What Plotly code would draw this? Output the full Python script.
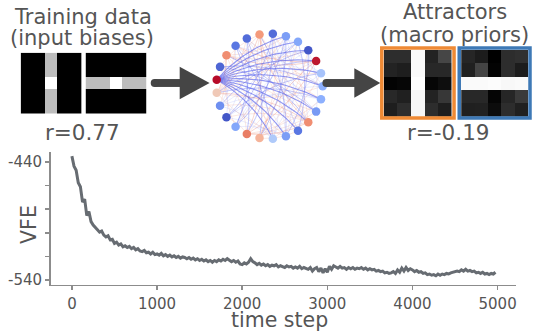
import numpy as np
import plotly.graph_objects as go

W, H = 533, 335
FONT = "DejaVu Sans"
TXT = "#555555"

# ---------------- data ----------------
step = 25
vfe = [
    -435.0, -443.5, -447.0, -457.5, -461.0, -474.0, -471.5, -485.5, -482.0, -490.5,
    -493.5, -496.0, -497.5, -499.5, -498.5, -502.0, -503.5, -502.5, -506.0, -505.5,
    -509.0, -508.0, -510.5, -509.5, -512.0, -511.0, -512.5, -511.5, -513.5, -512.5,
    -514.5, -513.5, -515.5, -516.0, -515.0, -517.0, -516.5, -518.0, -516.5, -518.5,
    -518.0, -519.0, -517.5, -519.5, -518.5, -520.0, -519.0, -520.5, -519.5, -521.0,
    -520.0, -521.5, -520.5, -521.0, -522.0, -521.0, -522.5, -521.5, -523.0, -522.0,
    -523.5, -522.5, -524.0, -523.0, -524.5, -523.5, -525.0, -523.5, -524.5, -523.0,
    -524.0, -522.5, -523.5, -522.0, -523.0, -524.5, -523.5, -525.0, -524.0, -526.5,
    -527.0, -525.5, -526.5, -525.0, -522.0, -524.5, -525.5, -527.0, -526.0, -527.5,
    -526.5, -528.0, -527.0, -528.5, -527.5, -528.0, -527.0, -529.0, -528.0, -528.5,
    -529.5, -528.0, -529.0, -528.5, -530.0, -529.0, -530.0, -528.5, -530.5, -529.5,
    -530.0, -531.0, -529.5, -532.5, -530.5, -529.5, -533.0, -530.0, -534.0, -530.5,
    -533.5, -528.5, -531.0, -528.0, -529.0, -530.0, -528.5, -530.0, -529.5, -531.0,
    -529.5, -530.5, -529.5, -531.0, -530.0, -530.5, -529.5, -531.0, -530.0, -531.5,
    -530.5, -531.5, -531.0, -532.5, -532.0, -533.0, -532.5, -534.0, -533.5, -534.5,
    -534.0, -533.0, -534.5, -531.5, -533.5, -530.0, -532.5, -529.5, -532.0, -530.5,
    -531.5, -533.0, -532.0, -533.5, -533.0, -534.5, -534.0, -535.5, -535.0, -536.0,
    -535.5, -536.5, -535.0, -536.0, -535.0, -535.5, -534.5, -535.0, -534.0, -533.5,
    -533.5, -532.5, -533.0, -531.5, -532.5, -531.0, -532.5, -532.0, -533.0, -532.5,
    -534.0, -533.5, -534.5, -533.5, -535.0, -534.5, -535.5, -534.5, -535.0, -533.5,
]
time_step = [i * step for i in range(len(vfe))]

x_ticks = [0, 1000, 2000, 3000, 4000, 5000]
y_ticks = [-540, -520, -500, -480, -460, -440]
y_ticktext = ["-540", "", "", "", "", "-440"]

train_vertical = [
    [0, 0, 0.74, 0, 0],
    [0, 0, 0.74, 0, 0],
    [0, 0, 1.0, 0, 0],
    [0, 0, 0.74, 0, 0],
    [0, 0, 0.74, 0, 0],
]
train_horizontal = [
    [0, 0, 0, 0, 0],
    [0, 0, 0, 0, 0],
    [0.74, 0.74, 1.0, 0.74, 0.74],
    [0, 0, 0, 0, 0],
    [0, 0, 0, 0, 0],
]
attr_vertical = [
    [45, 45, 250, 35, 70],
    [35, 30, 250, 40, 40],
    [3, 6, 255, 6, 14],
    [40, 32, 246, 35, 55],
    [30, 45, 246, 45, 30],
]
attr_horizontal = [
    [38, 28, 0, 45, 48],
    [32, 68, 3, 45, 28],
    [250, 250, 252, 248, 250],
    [40, 40, 5, 38, 58],
    [32, 33, 12, 45, 32],
]

# network: 25 nodes (counter-clockwise from east), values in [-1, 1]
node_values = [-0.5, -0.35, 0.95, -0.95, -0.55, -0.6, -0.85, 0.5, -0.85, -0.8,
               0.55, -0.88, 0.98, 0.2, -0.68, -0.95, -0.55, 0.62, 0.35, -0.3,
               -0.6, -0.8, 0.55, -0.62, -0.5]
edges = [
    (12, 0, -0.9), (12, 1, -0.85), (12, 2, -0.9), (12, 24, -0.85), (12, 23, -0.8),
    (12, 22, -0.75), (12, 3, -0.8), (12, 21, -0.7), (12, 4, -0.7), (12, 20, -0.65),
    (12, 5, -0.6), (12, 19, -0.6), (11, 0, -0.45), (11, 23, -0.4), (13, 2, -0.4),
    (13, 24, -0.45), (6, 17, -0.45), (8, 16, -0.45), (5, 18, -0.45), (7, 20, -0.4),
    (9, 19, -0.4), (4, 21, -0.4), (10, 22, -0.4), (3, 20, -0.35), (6, 15, -0.4),
    (8, 18, -0.4), (5, 16, -0.35), (9, 17, -0.35), (14, 3, -0.35), (15, 1, -0.35),
    (16, 4, -0.35),
    (2, 9, 0.4), (2, 10, 0.45), (2, 17, 0.4), (7, 17, 0.45), (7, 13, 0.4),
    (10, 13, 0.4), (22, 17, 0.4), (22, 7, 0.35), (18, 2, 0.35), (13, 22, 0.35),
    (0, 7, 0.3), (1, 10, 0.3), (3, 18, 0.3), (4, 13, 0.3), (5, 10, 0.3),
    (6, 22, 0.3), (8, 13, 0.3), (9, 22, 0.3), (11, 17, 0.3), (14, 7, 0.3),
    (15, 22, 0.3), (16, 10, 0.3), (19, 7, 0.3), (20, 13, 0.3), (21, 18, 0.3),
    (23, 10, 0.3), (24, 17, 0.3), (1, 18, 0.25), (0, 13, 0.25), (3, 10, 0.25),
    (4, 17, 0.25), (5, 13, 0.25), (6, 18, 0.25), (8, 22, 0.25), (9, 13, 0.25),
    (11, 7, 0.25), (14, 22, 0.25), (15, 17, 0.25), (16, 2, 0.25), (19, 22, 0.25),
    (20, 10, 0.25), (21, 7, 0.25), (23, 17, 0.25), (24, 7, 0.25),
    (0, 6, -0.3), (1, 8, -0.3), (3, 9, -0.3), (4, 11, -0.3), (5, 14, -0.3),
    (6, 16, -0.3), (9, 21, -0.3), (11, 20, -0.3), (14, 24, -0.3), (15, 0, -0.3),
    (16, 3, -0.3), (19, 1, -0.3), (20, 4, -0.3), (21, 5, -0.3), (23, 6, -0.3),
    (24, 8, -0.3), (0, 3, -0.25), (1, 5, -0.25), (4, 6, -0.25), (15, 19, -0.25),
    (16, 20, -0.25), (21, 24, -0.25), (3, 23, -0.25), (5, 20, -0.25), (6, 19, -0.25),
    (8, 15, -0.25), (9, 14, -0.25), (11, 15, -0.25), (14, 19, -0.25),
]

coolwarm = [
    [0.0, "rgb(59,76,192)"], [0.125, "rgb(98,130,234)"], [0.25, "rgb(141,176,254)"],
    [0.375, "rgb(184,208,249)"], [0.5, "rgb(221,221,221)"], [0.625, "rgb(245,196,173)"],
    [0.75, "rgb(244,154,123)"], [0.875, "rgb(222,96,77)"], [1.0, "rgb(180,4,38)"],
]
grey_scale = [[0, "black"], [1, "white"]]


def px(x):
    return x / W


def py(y):
    return 1 - y / H


fig = go.Figure()

# ---------------- main VFE line ----------------
fig.add_trace(go.Scatter(x=time_step, y=vfe, mode="lines",
                         line=dict(color="#676c72", width=3.0),
                         xaxis="x", yaxis="y", showlegend=False))

# ---------------- heatmaps ----------------
def add_heat(z, ax, zmax):
    fig.add_trace(go.Heatmap(z=z, colorscale=grey_scale, zmin=0, zmax=zmax,
                             showscale=False, xaxis="x" + ax, yaxis="y" + ax,
                             xgap=0, ygap=0))


add_heat(train_vertical, "2", 1)
add_heat(train_horizontal, "3", 1)
add_heat(attr_vertical, "5", 255)
add_heat(attr_horizontal, "6", 255)

# ---------------- network ----------------
R = 53.3
n = len(node_values)
ang = np.arange(n) * 2 * np.pi / n
nx = R * np.cos(ang)
ny = R * np.sin(ang)

groups = {}
for i, j, w in edges:
    p0 = np.array([nx[i], ny[i]])
    p2 = np.array([nx[j], ny[j]])
    d = p2 - p0
    ctrl = (p0 + p2) / 2 + 0.15 * np.array([-d[1], d[0]])
    t = np.linspace(0, 1, 24)[:, None]
    pts = (1 - t) ** 2 * p0 + 2 * (1 - t) * t * ctrl + t ** 2 * p2
    key = ("b" if w < 0 else "r") + ("s" if abs(w) >= 0.5 else ("m" if abs(w) >= 0.35 else "w"))
    gx, gy = groups.setdefault(key, ([], []))
    gx.extend(list(pts[:, 0]) + [None])
    gy.extend(list(pts[:, 1]) + [None])

styles = {
    "rw": ("rgba(240,160,140,0.3)", 0.8),
    "rm": ("rgba(236,140,120,0.4)", 0.9),
    "rs": ("rgba(230,110,90,0.5)", 1.0),
    "bw": ("rgba(150,160,245,0.25)", 0.8),
    "bm": ("rgba(110,120,240,0.45)", 0.9),
    "bs": ("rgba(90,100,235,0.65)", 1.1),
}
for key in ["rw", "bw", "rm", "bm", "rs", "bs"]:
    if key in groups:
        gx, gy = groups[key]
        c, wdt = styles[key]
        fig.add_trace(go.Scatter(x=gx, y=gy, mode="lines", line=dict(color=c, width=wdt),
                                 xaxis="x4", yaxis="y4", showlegend=False, hoverinfo="skip"))

fig.add_trace(go.Scatter(x=nx, y=ny, mode="markers",
                         marker=dict(size=8.5, color=node_values, colorscale=coolwarm,
                                     cmin=-1, cmax=1, line=dict(width=0)),
                         xaxis="x4", yaxis="y4", showlegend=False))

# ---------------- layout ----------------
axis_common = dict(showgrid=False, zeroline=False, showline=True, linecolor="#8c8c8c",
                   linewidth=1.5, ticks="outside", ticklen=4, tickwidth=1.5,
                   tickcolor="#8c8c8c", tickfont=dict(family=FONT, size=15, color=TXT))
hidden = dict(visible=False, showgrid=False, zeroline=False)

layout = dict(
    width=W, height=H, margin=dict(l=0, r=0, t=0, b=0),
    paper_bgcolor="white", plot_bgcolor="white", showlegend=False,
    xaxis=dict(domain=[px(50.7), px(516.7)], range=[-250, 5213], anchor="y",
               tickvals=x_ticks, ticklabelstandoff=1, **axis_common),
    yaxis=dict(domain=[py(288.3), py(154)], range=[-544.2, -431.6], anchor="x",
               tickvals=y_ticks, ticktext=y_ticktext, **axis_common),
    xaxis2=dict(domain=[px(20.7), px(81.7)], range=[-0.5, 4.5], anchor="y2", **hidden),
    yaxis2=dict(domain=[py(115), py(53.3)], range=[4.5, -0.5], anchor="x2", **hidden),
    xaxis3=dict(domain=[px(85.7), px(146.7)], range=[-0.5, 4.5], anchor="y3", **hidden),
    yaxis3=dict(domain=[py(115), py(53.3)], range=[4.5, -0.5], anchor="x3", **hidden),
    xaxis4=dict(domain=[px(205), px(335)], range=[-65, 65], anchor="y4", **hidden),
    yaxis4=dict(domain=[py(152.3), py(22.3)], range=[-65, 65], anchor="x4", **hidden),
    xaxis5=dict(domain=[px(384.5), px(452.5)], range=[-0.5, 4.5], anchor="y5", **hidden),
    yaxis5=dict(domain=[py(118.2), py(50.5)], range=[4.5, -0.5], anchor="x5", **hidden),
    xaxis6=dict(domain=[px(462), px(529.2)], range=[-0.5, 4.5], anchor="y6", **hidden),
    yaxis6=dict(domain=[py(118.2), py(50.5)], range=[4.5, -0.5], anchor="x6", **hidden),
)
fig.update_layout(**layout)

# ---------------- text ----------------
def note(text, x, y, size=21.5, angle=0):
    fig.add_annotation(text=text, x=px(x), y=py(y), xref="paper", yref="paper",
                       showarrow=False, xanchor="center", yanchor="middle",
                       textangle=angle, font=dict(family=FONT, size=size, color=TXT))


note("Training data", 83, 17.0, size=21)
note("(input biases)", 82.5, 38.8, size=21)
note("r=0.77", 82.5, 134.4)
note("Attractors", 455.8, 12.0, size=21)
note("(macro priors)", 455, 35.0, size=21)
note("r=-0.19", 449, 134.4)
note("VFE", 29.2, 227.5, size=20.5, angle=-90)
note("time step", 280, 324.2, size=20.5)

# ---------------- decorations: arrows and frames ----------------
def path(points):
    s = "M " + " L ".join(f"{px(a):.5f},{py(b):.5f}" for a, b in points) + " Z"
    return s


ARROW = "#454545"
for (x0, xb, xt, hh) in [(155, 182, 210, 16.5), (327, 357, 381, 15)]:
    yc = 84
    fig.add_shape(type="path", xref="paper", yref="paper",
                  path=path([(x0, yc - 4), (xb, yc - 4), (xb, yc + 4), (x0, yc + 4)]),
                  fillcolor=ARROW, line=dict(width=0))
    fig.add_shape(type="path", xref="paper", yref="paper",
                  path=path([(xb - 2, yc - hh), (xt, yc), (xb - 2, yc + hh)]),
                  fillcolor=ARROW, line=dict(width=0))
    fig.add_shape(type="circle", xref="paper", yref="paper",
                  x0=px(x0 - 4), x1=px(x0 + 4), y0=py(yc + 4), y1=py(yc - 4),
                  fillcolor=ARROW, line=dict(width=0))

for (x0, x1, col) in [(382.5, 454.9, "#ef8a35"), (460.1, 531.0, "#3e79b6")]:
    fig.add_shape(type="rect", xref="paper", yref="paper",
                  x0=px(x0), x1=px(x1), y0=py(119.3), y1=py(48.5),
                  line=dict(color=col, width=3.5), fillcolor="rgba(0,0,0,0)")

fig.write_html("out.html", config={"displayModeBar": False, "staticPlot": True},
               post_script="document.body.style.margin='0';document.body.style.padding='0';"
                           "document.body.style.overflow='hidden';")
